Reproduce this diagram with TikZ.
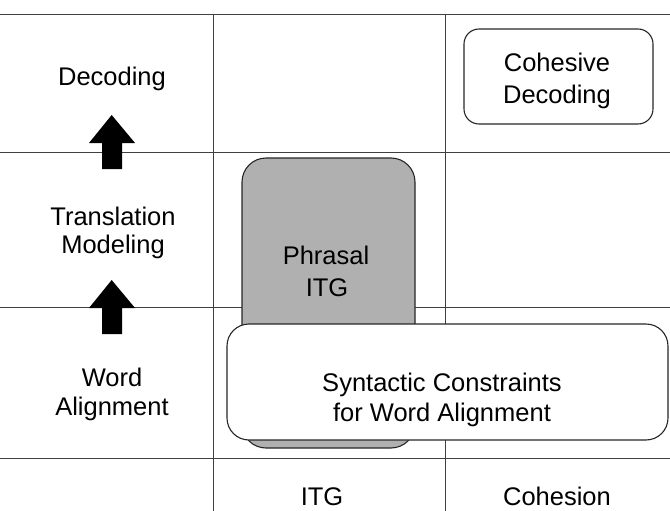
\documentclass[tikz,border=0pt]{standalone}
\usepackage{fontspec}
\setmainfont{Liberation Sans}
\begin{document}
\begin{tikzpicture}[x=1pt, y=-1pt,
  gridline/.style={draw=black!75, line width=0.9pt},
  box/.style={draw=black!85, line width=1.1pt, inner sep=0pt},
  lbl/.style={anchor=base, inner sep=0pt, font=\fontsize{25.5}{30}\selectfont},
  blockarrow/.style={fill=black}]
\useasboundingbox (0,0) rectangle (670,511);

% table grid
\draw[gridline] (0,14) -- (670,14);
\draw[gridline] (0,152) -- (670,152);
\draw[gridline] (0,307) -- (670,307);
\draw[gridline] (0,458) -- (670,458);
\draw[gridline] (213,14) -- (213,511);
\draw[gridline] (445,14) -- (445,511);

% boxes
\node[box, rounded corners=15pt, minimum width=189pt, minimum height=95pt] (cohbox) at (558.5,76.5) {};
\node[box, rounded corners=24pt, fill=gray!62, minimum width=173pt, minimum height=290pt] (phrbox) at (328.5,303) {};
\node[box, rounded corners=22pt, fill=white, minimum width=441pt, minimum height=116pt] (synbox) at (447.5,382) {};

% block arrows between the stages
\fill[blockarrow] (111.7,115) -- (135,143) -- (122,143) -- (122,169) -- (102,169) -- (102,143) -- (89,143) -- cycle;
\fill[blockarrow] (111.7,280) -- (135,308) -- (122,308) -- (122,334) -- (102,334) -- (102,308) -- (89,308) -- cycle;

% row labels
\node[lbl] (dec) at (112,85) {Decoding};
\node[lbl] (tr1) at (113,225) {Translation};
\node[lbl] (tr2) at (113,253) {Modeling};
\node[lbl] (wa1) at (112,386) {Word};
\node[lbl] (wa2) at (112,415) {Alignment};

% box texts
\node[lbl] (cd1) at (557,72) {Cohesive};
\node[lbl] (cd2) at (557,103) {Decoding};
\node[lbl] (ph1) at (326,264) {Phrasal};
\node[lbl] (ph2) at (327,296) {ITG};
\node[lbl] (sc1) at (442,391) {Syntactic Constraints};
\node[lbl] (sc2) at (442,421) {for Word Alignment};

% column labels
\node[lbl] (itg) at (322,505) {ITG};
\node[lbl] (coh) at (557,505) {Cohesion};
\end{tikzpicture}
\end{document}
